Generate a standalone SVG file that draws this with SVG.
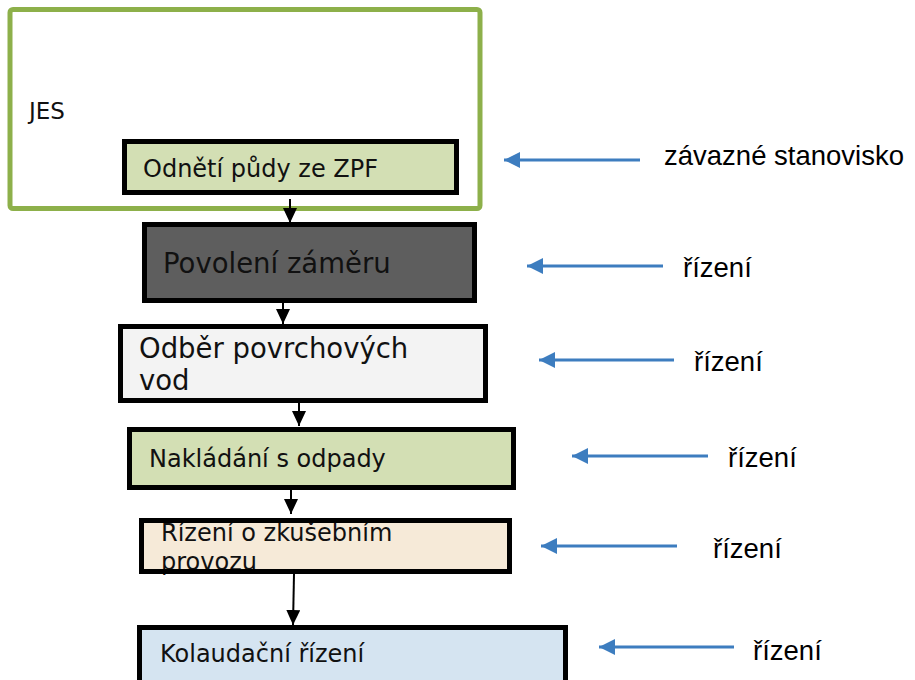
<svg xmlns="http://www.w3.org/2000/svg" width="915" height="680" viewBox="0 0 915 680">
<defs>
<style>
.box{stroke:#000;stroke-width:5}
.t{font-family:"DejaVu Sans",Verdana,sans-serif;fill:#111}
.lbl{font-family:"Liberation Sans",Arial,sans-serif;font-size:27.5px;fill:#000}
.flow{stroke:#000;stroke-width:2;fill:none;marker-end:url(#ab)}
.ref{stroke:#3D7DBF;stroke-width:3;fill:none;marker-end:url(#ablue)}
</style>
<marker id="ab" markerUnits="userSpaceOnUse" markerWidth="16" markerHeight="14" refX="15" refY="7" orient="auto">
<path d="M0,0 L15,7 L0,14 Z" fill="#000"/>
</marker>
<marker id="ablue" markerUnits="userSpaceOnUse" markerWidth="17" markerHeight="16" refX="16" refY="8" orient="auto">
<path d="M0,0 L16,8 L0,16 Z" fill="#3D7DBF"/>
</marker>
</defs>
<rect width="915" height="680" fill="#fff"/>

<g id="jes">
<rect x="10" y="9.5" width="470" height="199" rx="3" fill="none" stroke="#8DB04A" stroke-width="5"/>
<text class="t" x="29" y="119" font-size="23">JES</text>
</g>

<g id="odneti">
<rect x="124.5" y="141.5" width="332" height="51" fill="#D3DFB4"/>
<text class="t" x="143" y="177" font-size="24">Odnětí půdy ze ZPF</text>
<rect class="box" x="124.5" y="141.5" width="332" height="51" fill="none"/>
</g>

<g id="povoleni">
<rect x="144.5" y="224.5" width="330" height="76" fill="#5E5E5E"/>
<text class="t" x="163" y="273" font-size="27.5">Povolení záměru</text>
<rect class="box" x="144.5" y="224.5" width="330" height="76" fill="none"/>
</g>

<g id="odber">
<rect x="120.5" y="326.5" width="365" height="74" fill="#F3F3F3"/>
<text class="t" x="139" y="358" font-size="27.5">Odběr povrchových</text>
<text class="t" x="139" y="390" font-size="27.5">vod</text>
<rect class="box" x="120.5" y="326.5" width="365" height="74" fill="none"/>
</g>

<g id="nakladani">
<rect x="129.5" y="429.5" width="384" height="58" fill="#D3DFB4"/>
<text class="t" x="149" y="467" font-size="24">Nakládání s odpady</text>
<rect class="box" x="129.5" y="429.5" width="384" height="58" fill="none"/>
</g>

<g id="zkusebni">
<rect x="141.5" y="520.5" width="368" height="51" fill="#F6EAD8"/>
<text class="t" x="161" y="541" font-size="24">Řízení o zkušebním</text>
<text class="t" x="161" y="570" font-size="24">provozu</text>
<rect class="box" x="141.5" y="520.5" width="368" height="51" fill="none"/>
</g>

<g id="kolaudace">
<rect x="139.5" y="627.5" width="426" height="55" fill="#D5E4F1"/>
<text class="t" x="160" y="662" font-size="24">Kolaudační řízení</text>
<rect class="box" x="139.5" y="627.5" width="426" height="55" fill="none"/>
</g>

<g id="labels">
<text class="lbl" x="664" y="165">závazné stanovisko</text>
<text class="lbl" x="683" y="277">řízení</text>
<text class="lbl" x="694" y="371">řízení</text>
<text class="lbl" x="728" y="467">řízení</text>
<text class="lbl" x="713" y="558">řízení</text>
<text class="lbl" x="753" y="660">řízení</text>
</g>

<g id="connectors">
<line class="flow" x1="290" y1="199" x2="290" y2="223"/>
<line class="flow" x1="283" y1="303" x2="283" y2="324"/>
<line class="flow" x1="299" y1="403" x2="299" y2="426"/>
<line class="flow" x1="291" y1="490" x2="291" y2="514"/>
<line class="flow" x1="294" y1="574" x2="293" y2="625"/>
<line class="ref" x1="640" y1="160" x2="504" y2="160"/>
<line class="ref" x1="663" y1="266" x2="527" y2="266"/>
<line class="ref" x1="674" y1="360" x2="539" y2="360"/>
<line class="ref" x1="708" y1="456" x2="572" y2="456"/>
<line class="ref" x1="677" y1="546" x2="541" y2="546"/>
<line class="ref" x1="734" y1="647" x2="599" y2="647"/>
</g>
</svg>
